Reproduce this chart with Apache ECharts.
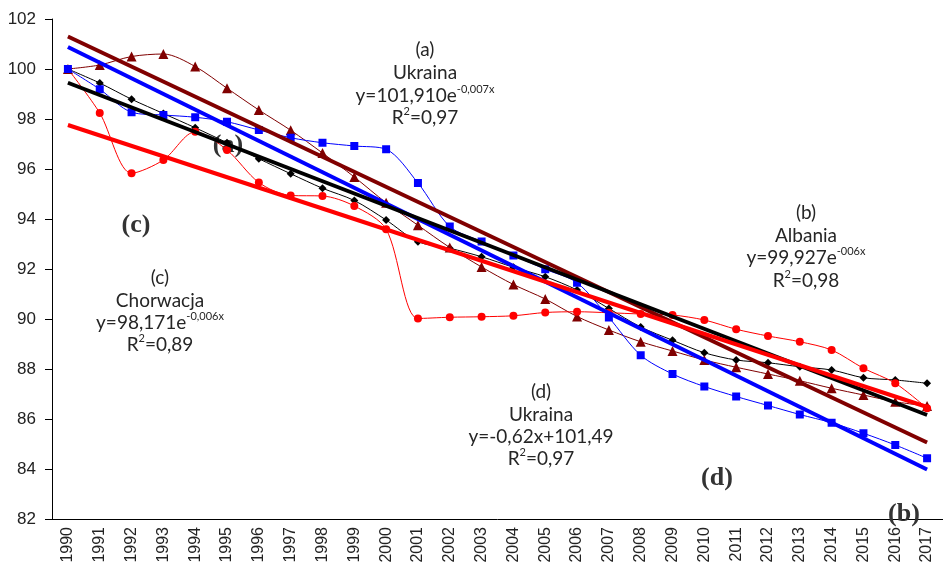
<!DOCTYPE html>
<html>
<head>
<meta charset="utf-8">
<script src="https://cdn.jsdelivr.net/npm/echarts@6/dist/echarts.min.js"></script>
<style>
html, body { margin: 0; padding: 0; background: #fff; }
#chart { width: 943px; height: 573px; }
</style>
</head>
<body>
<div id="chart"></div>
<script>
// lata
var years = ['1990','1991','1992','1993','1994','1995','1996','1997','1998','1999',
	'2000','2001','2002','2003','2004','2005','2006','2007','2008','2009',
	'2010','2011','2012','2013','2014','2015','2016','2017'];

// serie (indeks 1990 = 100)
var blueData = [100.0, 99.19, 98.27, 98.16, 98.07, 97.89, 97.56, 97.25, 97.05, 96.92,
	96.79, 95.44, 93.70, 93.10, 92.54, 91.99, 91.45, 90.06, 88.55, 87.80,
	87.30, 86.90, 86.54, 86.18, 85.85, 85.43, 84.96, 84.43];
var blackData = [100.0, 99.44, 98.79, 98.22, 97.65, 97.05, 96.41, 95.81, 95.23, 94.74,
	93.96, 93.09, 92.83, 92.49, 92.07, 91.69, 91.16, 90.42, 89.68, 89.15,
	88.65, 88.36, 88.25, 88.09, 87.96, 87.65, 87.56, 87.43];
var darkRedData = [100.0, 100.16, 100.50, 100.60, 100.10, 99.23, 98.36, 97.55, 96.64, 95.68,
	94.65, 93.75, 92.86, 92.08, 91.38, 90.80, 90.10, 89.56, 89.09, 88.72,
	88.36, 88.07, 87.80, 87.53, 87.23, 86.96, 86.69, 86.52];
var redData = [100.0, 98.24, 95.83, 96.36, 97.49, 96.76, 95.46, 94.94, 94.92, 94.52,
	93.59, 90.02, 90.07, 90.09, 90.13, 90.26, 90.29, 90.25, 90.20, 90.16,
	89.96, 89.59, 89.32, 89.09, 88.76, 88.03, 87.43, 86.43];

// linie trendu (poczatek i koniec)
var trendYears = ['1990', '2017'];
var darkRedTrend = [101.30, 85.06];
var blueTrend = [100.88, 83.98];
var blackTrend = [99.45, 86.16];
var redTrend = [97.76, 86.48];

// opisy
var notes = [
	{ x: 425, y: [50, 73, 96, 118], lines: ['(a)', 'Ukraina', 'y=101,910e{s|-0,007x}', 'R{s|2}=0,97'] },
	{ x: 806, y: [213, 236, 258, 281], lines: ['(b)', 'Albania', 'y=99,927e{s|-006x}', 'R{s|2}=0,98'] },
	{ x: 160, y: [278, 301, 323, 345], lines: ['(c)', 'Chorwacja', 'y=98,171e{s|-0,006x}', 'R{s|2}=0,89'] },
	{ x: 541, y: [392, 415, 437, 459], lines: ['(d)', 'Ukraina', 'y=-0,62x+101,49', 'R{s|2}=0,97'] }
];
var tags = [
	{ x: 228, y: 145, t: '(a)' },
	{ x: 136, y: 225, t: '(c)' },
	{ x: 717, y: 478, t: '(d)' },
	{ x: 904, y: 514, t: '(b)' }
];

function pairs(xs, vs) {
	return xs.map(function (x, i) { return [x, vs[i]]; });
}

var graphics = [];
notes.forEach(function (n) {
	n.lines.forEach(function (line, i) {
		graphics.push({
			type: 'text',
			x: n.x,
			y: n.y[i],
			z: 1,
			style: {
				text: line,
				align: 'center',
				verticalAlign: 'middle',
				fontSize: 19,
				fontFamily: 'Lato',
				lineHeight: 24,
				fill: '#262626',
				rich: {
					s: { fontSize: 11, fontFamily: 'Lato', fill: '#262626', verticalAlign: 'top', lineHeight: 11 }
				}
			}
		});
	});
});
tags.forEach(function (t) {
	graphics.push({
		type: 'text',
		x: t.x,
		y: t.y,
		z: 1,
		style: {
			text: t.t,
			align: 'center',
			verticalAlign: 'middle',
			fontSize: 26,
			fontWeight: 'bold',
			fontFamily: 'Liberation Serif',
			fill: '#333'
		}
	});
});

function thin(data, color, symbol, size) {
	return {
		type: 'line',
		data: data,
		smooth: 0.3,
		symbol: symbol,
		symbolSize: size,
		showAllSymbol: true,
		lineStyle: { color: color, width: 1 },
		itemStyle: { color: color },
		z: 3
	};
}
function trend(vals, color) {
	return {
		type: 'line',
		data: pairs(trendYears, vals),
		symbol: 'none',
		lineStyle: { color: color, width: 4 },
		z: 4
	};
}

var option = {
	animation: false,
	backgroundColor: '#fff',
	grid: { left: 52, top: 19, width: 896, height: 500 },
	xAxis: {
		type: 'category',
		data: years,
		boundaryGap: true,
		axisLine: { lineStyle: { color: '#000', width: 1 } },
		axisTick: { length: 7, lineStyle: { color: '#000' } },
		axisLabel: {
			rotate: 90,
			interval: 0,
			margin: 8,
			fontSize: 16,
			fontFamily: 'Liberation Sans',
			color: '#222'
		},
		splitLine: { show: false }
	},
	yAxis: {
		type: 'value',
		min: 82,
		max: 102,
		interval: 2,
		axisLine: { show: true, lineStyle: { color: '#000', width: 1 } },
		axisTick: { show: true, length: 7, lineStyle: { color: '#000' } },
		axisLabel: { margin: 16, fontSize: 17, fontFamily: 'Liberation Sans', color: '#222' },
		splitLine: { show: false }
	},
	graphic: graphics,
	series: [
		thin(blackData, '#000000', 'diamond', 8),
		thin(darkRedData, '#800000', 'triangle', 10),
		thin(redData, '#ff0000', 'circle', 8),
		thin(blueData, '#0000ff', 'rect', 8),
		trend(darkRedTrend, '#800000'),
		trend(blueTrend, '#0000ff'),
		trend(blackTrend, '#000000'),
		trend(redTrend, '#ff0000')
	]
};

var chart = echarts.init(document.getElementById('chart'));
chart.setOption(option);
</script>
</body>
</html>
